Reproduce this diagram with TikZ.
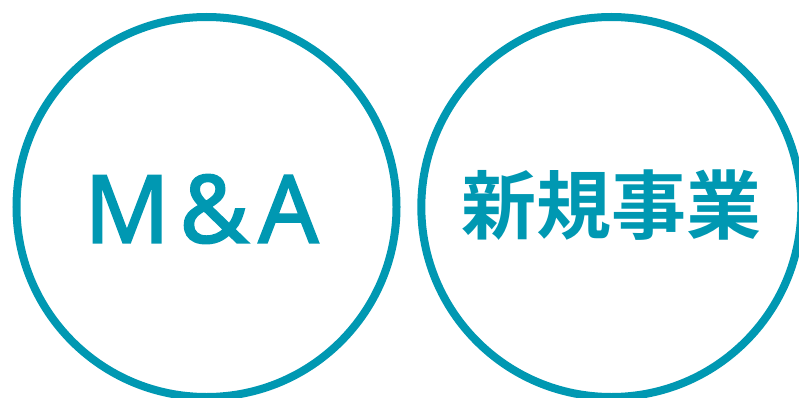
\documentclass[tikz,border=0pt]{standalone}
\usepackage{fontspec}
\newfontfamily\cjk{Noto Sans CJK JP}[BoldFont={Noto Sans CJK JP Bold}]
\newfontfamily\latin{Noto Sans}[FakeBold=2]
\definecolor{teal}{RGB}{0,152,178}
\tikzset{
    ring/.style={circle, draw=teal, line width=8pt, minimum size=380pt, inner sep=0pt},
    label/.style={text=teal, inner sep=0pt}
}

\begin{document}
\begin{tikzpicture}[x=1pt,y=-1pt]

    \useasboundingbox (0,0) rectangle (799,398);
    \clip (0,0) rectangle (799,398);

    \node (left) at (206.5,207) [ring] {};
    \node (right) at (611.3,207) [ring] {};

    % M&A is set in a sans with a little extra spacing
    \node (ma) at (201.5,209) [label, font=\latin\bfseries\fontsize{94pt}{94pt}\selectfont]
        {M\hspace{10pt}\&\hspace{10pt}A};
    \node (new) at (611,205) [label, font=\cjk\bfseries\fontsize{75pt}{75pt}\selectfont]
        {新規事業};

\end{tikzpicture}
\end{document}
